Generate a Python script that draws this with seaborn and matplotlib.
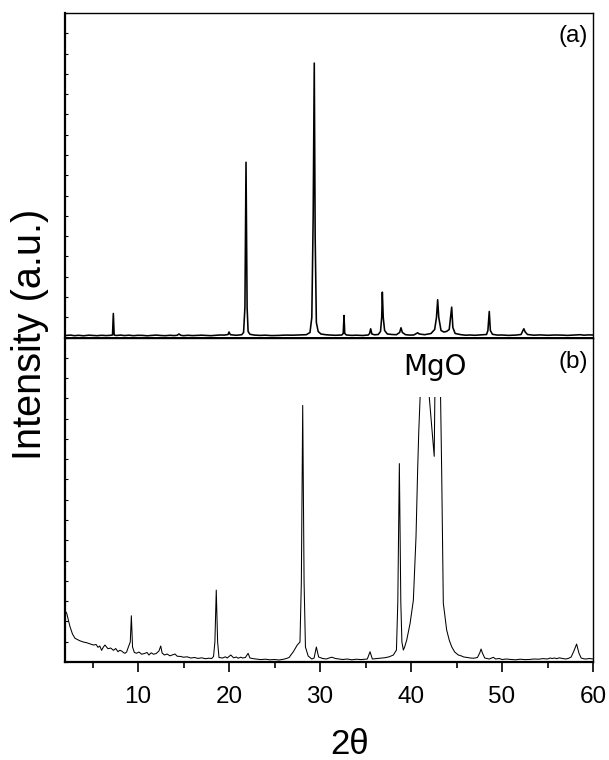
import matplotlib
matplotlib.use("Agg")
import matplotlib.pyplot as plt
from matplotlib.patches import Rectangle
from matplotlib.ticker import FixedLocator
import numpy as np
import pandas as pd
import seaborn as sns

# ---- diffraction traces (2-theta in degrees, intensity in arbitrary units) ----
# (a) pattern
theta_a = [2.0, 2.6, 3.0, 3.5, 4.0, 4.6, 5.0, 5.5, 6.0, 6.5, 7.0, 7.2, 7.29, 7.38,
           7.6, 8.1, 8.5, 9.0, 9.5, 10.0, 10.5, 11.0, 11.5, 12.0, 12.5, 13.0,
           13.5, 14.0, 14.3, 14.5, 14.7, 15.0, 15.5, 16.0, 16.5, 17.0, 17.5,
           18.0, 18.5, 19.0, 19.5, 19.9, 20.0, 20.15, 20.8, 21.4, 21.6, 21.75,
           21.87, 21.99, 22.1, 22.3, 22.8, 23.4, 24.0, 24.7, 25.5, 26.2, 27.0,
           27.8, 28.5, 28.9, 29.1, 29.25, 29.37, 29.47, 29.6, 29.8, 30.1, 30.6,
           31.0, 31.7, 32.4, 32.55, 32.64, 32.72, 32.9, 33.5, 34.0, 34.7, 35.3,
           35.45, 35.57, 35.7, 36.0, 36.4, 36.65, 36.78, 36.85, 36.95, 37.1, 37.4,
           37.9, 38.4, 38.75, 38.9, 39.05, 39.4, 39.9, 40.3, 40.6, 40.74, 40.9,
           41.5, 42.2, 42.6, 42.8, 42.93, 43.05, 43.3, 43.6, 43.9, 44.2, 44.35,
           44.47, 44.6, 44.85, 45.5, 46.0, 46.5, 47.0, 47.5, 48.3, 48.45, 48.6,
           48.72, 48.95, 49.5, 50.0, 50.7, 51.5, 52.1, 52.3, 52.4, 52.55, 52.8,
           53.5, 54.2, 55.0, 55.8, 56.5, 57.2, 58.0, 58.6, 59.0, 59.5, 60.0]
int_a = [20, 24, 18, 22, 17, 23, 21, 18, 22, 19, 22, 25, 240, 25,
         20, 24, 19, 23, 18, 22, 21, 17, 21, 24, 20, 18,
         22, 19, 22, 35, 22, 18, 22, 19, 21, 23, 20,
         18, 22, 25, 24, 30, 55, 28, 22, 28, 50, 300,
         1750, 300, 60, 32, 24, 21, 23, 19, 21, 24, 23,
         26, 28, 50, 200, 1200, 2740, 1000, 150, 60, 35, 28,
         25, 22, 25, 40, 220, 40, 25, 21, 23, 20, 25,
         40, 87, 35, 27, 30, 60, 200, 453, 200, 70, 35,
         30, 28, 50, 97, 50, 28, 24, 25, 40, 47, 35,
         28, 40, 80, 200, 377, 200, 70, 55, 60, 80, 200,
         303, 100, 40, 28, 23, 25, 22, 25, 30, 70, 260,
         70, 32, 24, 25, 21, 24, 30, 70, 87, 55, 30,
         23, 26, 22, 25, 24, 21, 25, 28, 23, 26, 25]

# (b) pattern
theta_b = [2.0, 2.16, 2.53, 2.8, 3.08, 3.6, 4.0, 4.36, 4.7, 5.1, 5.4, 5.6, 5.8,
           6.0, 6.2, 6.37, 6.7, 7.0, 7.3, 7.55, 7.8, 8.0, 8.2, 8.4, 8.57, 8.75,
           8.93, 9.15, 9.27, 9.4, 9.6, 9.85, 10.1, 10.4, 10.7, 11.0, 11.2, 11.45,
           11.7, 12.0, 12.3, 12.5, 12.65, 12.9, 13.2, 13.5, 13.8, 14.07, 14.3,
           14.7, 15.0, 15.4, 15.8, 16.2, 16.6, 17.0, 17.4, 17.8, 18.1, 18.3,
           18.45, 18.6, 18.75, 18.9, 19.3, 19.6, 19.8, 20.2, 20.5, 20.8, 21.0,
           21.3, 21.5, 21.8, 22.1, 22.3, 22.7, 23.0, 23.5, 24.0, 24.5, 25.0,
           25.5, 26.0, 26.3, 26.6, 27.07, 27.5, 27.8, 27.95, 28.1, 28.25, 28.4,
           28.7, 29.1, 29.35, 29.6, 29.85, 30.3, 30.7, 31.0, 31.3, 31.7, 32.1,
           32.5, 33.0, 33.5, 34.0, 34.5, 35.2, 35.5, 35.75, 36.3, 36.8, 37.15,
           37.6, 38.06, 38.4, 38.55, 38.72, 38.88, 39.0, 39.16, 39.3, 39.53,
           39.9, 40.26, 40.55, 40.73, 40.85, 41.0, 41.3, 41.7, 42.01, 42.3,
           42.55, 42.62, 42.9, 43.25, 43.37, 43.55, 43.92, 44.2, 44.47, 44.8,
           45.2, 45.5, 45.8, 46.2, 46.5, 46.9, 47.3, 47.55, 47.7, 47.85, 48.1,
           48.6, 49.05, 49.3, 49.7, 50.0, 50.5, 51.0, 51.5, 52.0, 52.5, 53.0,
           53.5, 54.0, 54.5, 55.0, 55.3, 55.5, 55.8, 56.0, 56.3, 56.5, 57.0,
           57.3, 57.6, 57.9, 58.2, 58.45, 58.7, 59.0, 59.2, 59.6, 60.0]
int_b = [510, 490, 353, 280, 237, 213, 200, 193, 182, 170, 175, 147, 160,
         117, 150, 170, 133, 140, 117, 135, 103, 118, 110, 95, 87, 100,
         147, 200, 463, 150, 95, 88, 100, 78, 85, 95, 70, 92,
         78, 85, 110, 160, 90, 70, 80, 62, 72, 80, 58,
         55, 48, 52, 40, 45, 36, 42, 33, 38, 35, 55,
         200, 720, 200, 45, 40, 52, 40, 70, 42, 50, 38,
         48, 40, 45, 87, 40, 33, 30, 24, 28, 22, 25,
         20, 28, 35, 45, 103, 170, 200, 800, 2570, 800, 150,
         60, 30, 40, 150, 50, 35, 30, 40, 48, 35, 30,
         25, 30, 22, 28, 24, 30, 103, 30, 35, 40, 43,
         52, 70, 120, 600, 1987, 600, 200, 120, 150, 220,
         387, 620, 1253, 1920, 2300, 2650, 3300, 3500, 2650, 2330,
         2060, 2650, 3800, 2650, 1920, 590, 320, 220, 153, 100,
         70, 62, 50, 45, 40, 38, 45, 90, 130, 90, 40,
         30, 47, 30, 35, 25, 30, 25, 22, 28, 24, 25,
         30, 28, 34, 30, 40, 35, 40, 33, 42, 38, 30,
         36, 50, 110, 180, 90, 40, 32, 30, 35, 30]

# intensity above which the MgO reflection is cut off below its label
mgo_cut = 2650

x_range = (2, 60)
ylim_a = (0, 3240)
ylim_b = (0, 3250)
x_major = [10, 20, 30, 40, 50, 60]
x_minor = [5, 15, 25, 35, 45, 55]

df_a = pd.DataFrame({"two_theta": theta_a, "intensity": int_a})
df_b = pd.DataFrame({"two_theta": theta_b, "intensity": int_b})

sns.set_theme(style="white")
plt.rcParams["font.family"] = ["Liberation Sans", "DejaVu Sans"]
plt.rcParams["text.color"] = "black"
plt.rcParams["xtick.color"] = "black"
plt.rcParams["ytick.color"] = "black"
plt.rcParams["axes.edgecolor"] = "black"

fig, (ax_a, ax_b) = plt.subplots(2, 1, figsize=(6.09, 7.60), dpi=100, sharex=True)
fig.subplots_adjust(left=65.2 / 609, right=593 / 609, top=1 - 13 / 760,
                    bottom=1 - 662 / 760, hspace=0)

sns.lineplot(data=df_a, x="two_theta", y="intensity", ax=ax_a, color="black",
             linewidth=1.15, estimator=None, sort=False)
sns.lineplot(data=df_b, x="two_theta", y="intensity", ax=ax_b, color="black",
             linewidth=0.75, estimator=None, sort=False)

# truncate the strong MgO peak so the label fits above it
clip = Rectangle((x_range[0], 0), x_range[1] - x_range[0], mgo_cut,
                 transform=ax_b.transData, fill=False, visible=False)
ax_b.add_patch(clip)
ax_b.lines[-1].set_clip_path(clip)

for ax, ylim in ((ax_a, ylim_a), (ax_b, ylim_b)):
    ax.set_xlim(*x_range)
    ax.set_ylim(*ylim)
    ax.set_xlabel("")
    ax.set_ylabel("")
    ax.yaxis.set_major_locator(FixedLocator(np.linspace(ylim[0], ylim[1], 17)))
    ax.tick_params(axis="y", which="major", direction="in", length=2.5, width=0.8,
                   left=True, labelleft=False)
    for side in ("top", "right"):
        ax.spines[side].set_linewidth(1.0)
    ax.spines["left"].set_linewidth(1.6)

ax_a.spines["bottom"].set_linewidth(1.4)
ax_b.spines["top"].set_linewidth(1.0)
ax_b.spines["bottom"].set_linewidth(1.6)
ax_a.tick_params(axis="x", which="both", bottom=False, labelbottom=False)

ax_b.xaxis.set_major_locator(FixedLocator(x_major))
ax_b.xaxis.set_minor_locator(FixedLocator(x_minor))
ax_b.tick_params(axis="x", which="major", direction="out", length=7, width=1.2,
                 bottom=True, labelsize=17.5, pad=10)
ax_b.tick_params(axis="x", which="minor", direction="out", length=4.5, width=1.2,
                 bottom=True)
ax_b.set_xticklabels([str(v) for v in x_major])

ax_a.text(0.99, 0.962, "(a)", transform=ax_a.transAxes, ha="right", va="top",
          fontsize=17.5)
ax_b.text(0.99, 0.957, "(b)", transform=ax_b.transAxes, ha="right", va="top",
          fontsize=17.5)
ax_b.text(42.6, 2950, "MgO", ha="center", va="center", fontsize=20,
          family="DejaVu Sans")

fig.text(30 / 609, 1 - 334 / 760, "Intensity (a.u.)", rotation=90, ha="center",
         va="center", fontsize=28.5)
fig.text(350 / 609, 1 - 744 / 760, "2θ", ha="center", va="center", fontsize=25)

fig.savefig("out.png", dpi=100)
